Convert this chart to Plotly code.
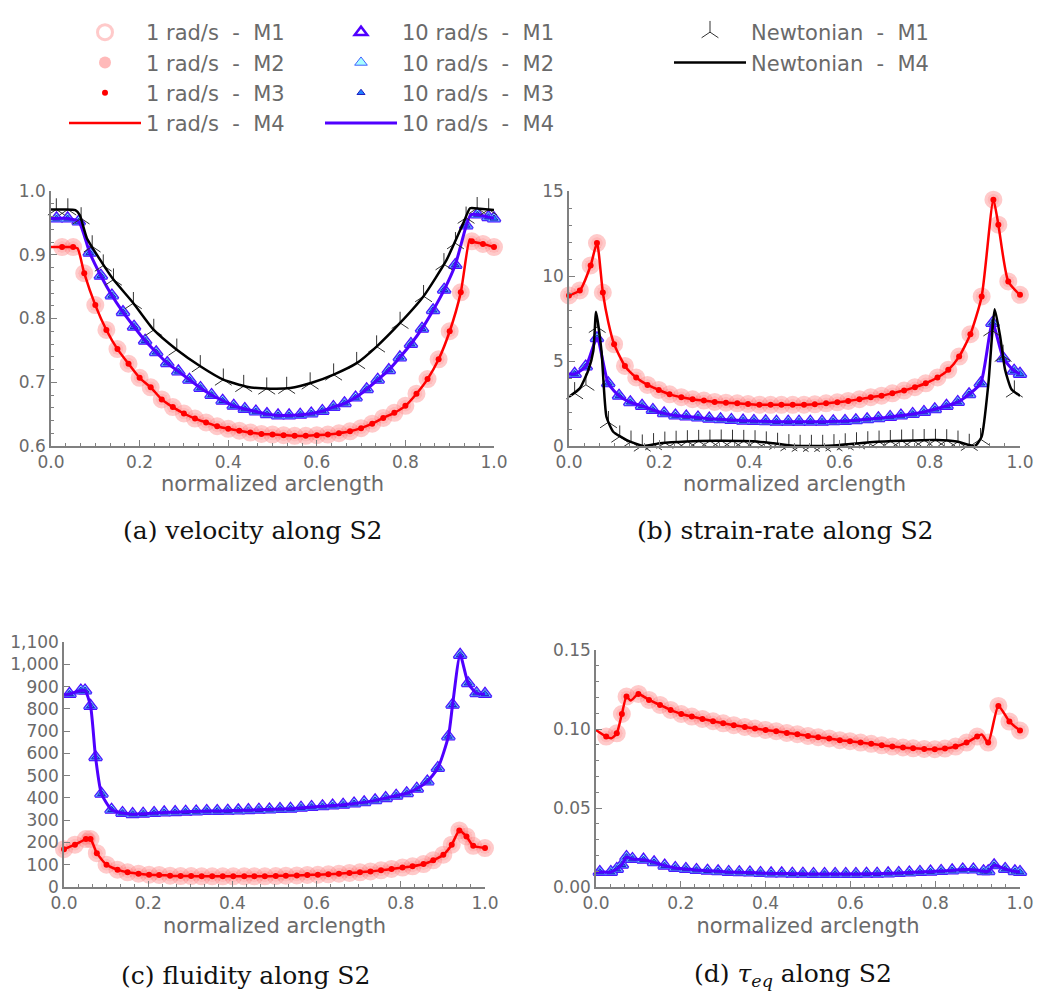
import plotly.graph_objects as go

# ---------------- data: normalized arclength (S) and field values along S2 ----------------
# (a) velocity
VEL_1_S = [0.025, 0.05, 0.075, 0.1, 0.125, 0.15, 0.175, 0.2, 0.225, 0.25, 0.275, 0.3, 0.325, 0.35,
           0.375, 0.4, 0.425, 0.45, 0.475, 0.5, 0.525, 0.55, 0.575, 0.6, 0.625, 0.65, 0.675, 0.7,
           0.725, 0.75, 0.775, 0.8, 0.825, 0.85, 0.875, 0.9, 0.925, 0.95, 0.975, 1.0]
VEL_1 = [0.912, 0.912, 0.871, 0.821, 0.782, 0.752, 0.729, 0.707, 0.692, 0.673, 0.661, 0.651, 0.643,
         0.637, 0.631, 0.627, 0.624, 0.621, 0.619, 0.618, 0.617, 0.616, 0.616, 0.617, 0.618, 0.620,
         0.623, 0.628, 0.635, 0.644, 0.652, 0.663, 0.682, 0.705, 0.736, 0.780, 0.841, 0.921, 0.917,
         0.912]
VEL_1_EXTRA_S = [0.0, 0.06, 0.945]
VEL_1_EXTRA = [0.912, 0.910, 0.924]

VEL_10_S = [0.0125, 0.0375, 0.0625, 0.0875, 0.1125, 0.1375, 0.1625, 0.1875, 0.2125, 0.2375, 0.2625,
            0.2875, 0.3125, 0.3375, 0.3625, 0.3875, 0.4125, 0.4375, 0.4625, 0.4875, 0.5125, 0.5375,
            0.5625, 0.5875, 0.6125, 0.6375, 0.6625, 0.6875, 0.7125, 0.7375, 0.7625, 0.7875, 0.8125,
            0.8375, 0.8625, 0.8875, 0.9125, 0.9375, 0.9625, 0.9875, 1.0]
VEL_10 = [0.957, 0.957, 0.952, 0.903, 0.867, 0.836, 0.810, 0.787, 0.765, 0.747, 0.730, 0.717, 0.704,
          0.691, 0.680, 0.671, 0.663, 0.658, 0.654, 0.650, 0.648, 0.648, 0.649, 0.651, 0.655, 0.661,
          0.667, 0.676, 0.689, 0.704, 0.719, 0.739, 0.760, 0.784, 0.813, 0.845, 0.884, 0.946, 0.963,
          0.959, 0.957]
VEL_10_EXTRA_S = [0.0, 0.948]
VEL_10_EXTRA = [0.957, 0.963]

VEL_N_S = [0.012, 0.038, 0.068, 0.093, 0.118, 0.141, 0.186, 0.232, 0.284, 0.337, 0.389, 0.435,
           0.487, 0.532, 0.585, 0.638, 0.69, 0.735, 0.788, 0.841, 0.887, 0.913, 0.937, 0.962, 0.988]
VEL_N = [0.971, 0.971, 0.957, 0.913, 0.883, 0.861, 0.824, 0.782, 0.751, 0.725, 0.704, 0.694, 0.690,
         0.691, 0.698, 0.712, 0.730, 0.756, 0.793, 0.835, 0.885, 0.918, 0.958, 0.973, 0.971]
VEL_N_LINE_S = [0.0, 0.03, 0.055, 0.065, 0.081, 0.111, 0.141, 0.186, 0.232, 0.284, 0.337, 0.389,
                0.442, 0.495, 0.54, 0.592, 0.638, 0.69, 0.735, 0.788, 0.841, 0.893, 0.931, 0.946,
                0.968, 1.0]
VEL_N_LINE = [0.971, 0.971, 0.970, 0.962, 0.926, 0.892, 0.861, 0.824, 0.782, 0.751, 0.725, 0.704,
              0.693, 0.690, 0.691, 0.700, 0.712, 0.730, 0.756, 0.793, 0.835, 0.892, 0.950, 0.973,
              0.972, 0.970]

# (b) strain-rate
SR_1_S = [0.0, 0.024, 0.048, 0.062, 0.075, 0.1, 0.124, 0.149, 0.174, 0.199, 0.223, 0.249, 0.274,
          0.299, 0.323, 0.348, 0.373, 0.397, 0.422, 0.447, 0.471, 0.496, 0.521, 0.545, 0.57, 0.595,
          0.619, 0.644, 0.669, 0.693, 0.717, 0.743, 0.767, 0.791, 0.817, 0.841, 0.865, 0.89, 0.915,
          0.941, 0.952, 0.974, 1.0]
SR_1 = [8.86, 9.15, 10.62, 11.94, 9.03, 5.99, 4.71, 4.03, 3.59, 3.30, 3.04, 2.87, 2.75, 2.67, 2.59,
        2.55, 2.51, 2.47, 2.43, 2.42, 2.42, 2.42, 2.43, 2.45, 2.51, 2.57, 2.65, 2.75, 2.87, 2.96,
        3.10, 3.26, 3.46, 3.69, 4.03, 4.48, 5.26, 6.58, 8.80, 14.49, 13.02, 9.68, 8.89]
SR_1_EXTRA_S = [0.087]
SR_1_EXTRA = [7.3]

SR_10_S = [0.0125, 0.037, 0.062, 0.087, 0.111, 0.136, 0.162, 0.186, 0.211, 0.236, 0.26, 0.286,
           0.311, 0.336, 0.36, 0.386, 0.41, 0.436, 0.46, 0.486, 0.51, 0.535, 0.561, 0.586, 0.612,
           0.636, 0.661, 0.686, 0.712, 0.736, 0.762, 0.787, 0.811, 0.837, 0.862, 0.887, 0.913,
           0.939, 0.963, 0.987, 1.0]
SR_10 = [4.24, 4.67, 6.34, 3.69, 2.95, 2.57, 2.36, 2.12, 1.92, 1.79, 1.73, 1.67, 1.61, 1.57, 1.53,
         1.49, 1.47, 1.45, 1.43, 1.43, 1.43, 1.43, 1.43, 1.45, 1.47, 1.51, 1.57, 1.63, 1.71, 1.79,
         1.88, 2.00, 2.16, 2.36, 2.59, 3.04, 3.69, 7.23, 5.16, 4.42, 4.24]
SR_10_EXTRA_S = [0.0]
SR_10_EXTRA = [4.24]

SR_N_S = [0.0125, 0.0375, 0.0625, 0.0875, 0.1125, 0.1375, 0.1625, 0.1875, 0.2125, 0.2375, 0.2625,
          0.2875, 0.3125, 0.3375, 0.3625, 0.3875, 0.4125, 0.4375, 0.4625, 0.4875, 0.5125, 0.5375,
          0.5625, 0.5875, 0.6125, 0.6375, 0.6625, 0.6875, 0.7125, 0.7375, 0.7625, 0.7875, 0.8125,
          0.8375, 0.8625, 0.8875, 0.9125, 0.9375, 0.9625, 0.9875]
SR_N = [3.1, 3.6, 7.0, 1.4, 0.55, 0.25, 0.02, 0.1, 0.19, 0.24, 0.27, 0.29, 0.3, 0.31, 0.3, 0.29,
        0.27, 0.2, 0.12, 0.04, 0.0, 0.0, 0.0, 0.04, 0.09, 0.15, 0.21, 0.25, 0.28, 0.31, 0.33, 0.34,
        0.35, 0.33, 0.25, 0.06, 0.4, 6.8, 5.3, 3.2]
SR_N_LINE_S = [0.0, 0.024, 0.043, 0.054, 0.06, 0.072, 0.083, 0.098, 0.128, 0.165, 0.202, 0.26,
               0.327, 0.408, 0.453, 0.497, 0.556, 0.6, 0.667, 0.741, 0.815, 0.86, 0.9, 0.915, 0.93,
               0.944, 0.956, 0.967, 0.981, 1.0]
SR_N_LINE = [2.9, 3.39, 4.47, 5.6, 7.9, 5.6, 1.72, 0.84, 0.35, 0.0, 0.16, 0.27, 0.31, 0.28, 0.16,
             0.02, 0.0, 0.06, 0.22, 0.31, 0.35, 0.26, 0.0, 0.55, 3.69, 8.05, 6.44, 4.48, 3.34, 2.95]

# (c) fluidity
FL_1_S = [0.0, 0.026, 0.052, 0.063, 0.078, 0.101, 0.127, 0.151, 0.177, 0.202, 0.226, 0.252, 0.277,
          0.302, 0.327, 0.352, 0.377, 0.402, 0.428, 0.452, 0.477, 0.503, 0.527, 0.553, 0.578, 0.603,
          0.628, 0.653, 0.678, 0.703, 0.728, 0.753, 0.778, 0.804, 0.828, 0.854, 0.877, 0.901, 0.921,
          0.939, 0.956, 0.972, 1.0]
FL_1 = [170, 190, 215, 215, 152, 100, 78, 66, 60, 55, 54, 51, 49, 49, 48, 48, 48, 48, 48, 48, 48,
        49, 51, 52, 54, 55, 57, 60, 63, 66, 70, 75, 81, 87, 93, 103, 120, 145, 190, 254, 227, 185,
        175]

FL_10_S = [0.013, 0.04, 0.05, 0.063, 0.075, 0.089, 0.113, 0.139, 0.163, 0.188, 0.214, 0.238, 0.264,
           0.289, 0.314, 0.339, 0.364, 0.389, 0.414, 0.438, 0.463, 0.488, 0.513, 0.538, 0.563,
           0.588, 0.614, 0.638, 0.663, 0.689, 0.713, 0.739, 0.764, 0.789, 0.814, 0.838, 0.863,
           0.888, 0.913, 0.923, 0.941, 0.96, 0.98, 1.0]
FL_10 = [867, 882, 882, 813, 583, 419, 347, 332, 327, 329, 332, 335, 336, 338, 339, 341, 341, 342,
         344, 345, 347, 348, 350, 351, 356, 359, 362, 366, 369, 375, 380, 389, 399, 410, 421, 441,
         474, 534, 676, 818, 1042, 915, 870, 867]
FL_10_EXTRA_S = [0.0]
FL_10_EXTRA = [862]

# (d) equivalent stress
TAU_1_S = [0.024, 0.049, 0.061, 0.072, 0.1, 0.125, 0.151, 0.176, 0.201, 0.226, 0.251, 0.276, 0.3,
           0.325, 0.351, 0.375, 0.4, 0.425, 0.45, 0.475, 0.5, 0.524, 0.55, 0.575, 0.599, 0.624,
           0.649, 0.674, 0.699, 0.724, 0.748, 0.774, 0.799, 0.823, 0.848, 0.874, 0.899, 0.925,
           0.949, 0.975, 1.0]
TAU_1 = [0.0952, 0.0973, 0.1095, 0.1205, 0.1222, 0.1184, 0.1152, 0.1121, 0.1095, 0.1079, 0.1064,
         0.1049, 0.1036, 0.1024, 0.1013, 0.1003, 0.0994, 0.0986, 0.0975, 0.0967, 0.0956, 0.0948,
         0.0940, 0.0929, 0.0923, 0.0914, 0.0906, 0.0897, 0.0889, 0.0883, 0.0878, 0.0874, 0.0872,
         0.0876, 0.0889, 0.0914, 0.0952, 0.0914, 0.1146, 0.1047, 0.0990]
TAU_1_EXTRA_S = [0.0, 0.037, 0.082, 0.91]
TAU_1_EXTRA = [0.0994, 0.0942, 0.1180, 0.0965]

TAU_10_S = [0.009, 0.035, 0.049, 0.061, 0.072, 0.086, 0.112, 0.137, 0.162, 0.187, 0.212, 0.237,
            0.263, 0.288, 0.313, 0.338, 0.363, 0.388, 0.413, 0.438, 0.463, 0.488, 0.513, 0.539,
            0.564, 0.589, 0.613, 0.638, 0.663, 0.689, 0.714, 0.739, 0.764, 0.789, 0.814, 0.84,
            0.865, 0.89, 0.914, 0.925, 0.939, 0.965, 0.988, 1.0]
TAU_10 = [0.0095, 0.0095, 0.0114, 0.0141, 0.0190, 0.0177, 0.0173, 0.0156, 0.0135, 0.0120, 0.0114,
          0.0107, 0.0103, 0.0099, 0.0095, 0.0093, 0.0091, 0.0088, 0.0086, 0.0086, 0.0084, 0.0084,
          0.0082, 0.0082, 0.0082, 0.0082, 0.0082, 0.0084, 0.0084, 0.0086, 0.0088, 0.0091, 0.0095,
          0.0097, 0.0101, 0.0105, 0.0110, 0.0110, 0.0099, 0.0099, 0.0137, 0.0114, 0.0099, 0.0095]
TAU_10_EXTRA_S = [0.0]
TAU_10_EXTRA = [0.0095]

LEGEND_1 = ["1 rad/s  -  M1", "1 rad/s  -  M2", "1 rad/s  -  M3", "1 rad/s  -  M4"]
LEGEND_10 = ["10 rad/s  -  M1", "10 rad/s  -  M2", "10 rad/s  -  M3", "10 rad/s  -  M4"]
LEGEND_N = ["Newtonian  -  M1", "Newtonian  -  M4"]
CAPTIONS = ["(a) velocity along S2", "(b) strain-rate along S2",
            "(c) fluidity along S2", "(d) <i>τ</i><sub><i>eq</i></sub> along S2"]


def with_extra(s, v, es=(), ev=()):
    pts = sorted(zip(list(s) + list(es), list(v) + list(ev)))
    return [p[0] for p in pts], [p[1] for p in pts]


def label(t):
    return t.replace("  ", "\u00a0\u00a0")


fig = go.Figure()

RED = "#ff0000"
PURPLE = "#5000ff"


def add_1rad(ax, s, v, es=(), ev=(), first=False):
    xa, ya = ("x" + ax, "y" + ax)
    kw = dict(xaxis=xa, yaxis=ya, cliponaxis=False, legend="legend", showlegend=first)
    fig.add_trace(go.Scatter(x=s, y=v, mode="markers", name=label(LEGEND_1[0]),
                             marker=dict(symbol="circle-open", size=15, color="rgba(255,150,150,0.5)",
                                         line=dict(width=3, color="rgba(255,150,150,0.5)")), **kw))
    fig.add_trace(go.Scatter(x=s, y=v, mode="markers", name=label(LEGEND_1[1]),
                             marker=dict(symbol="circle", size=12, color="rgba(255,80,80,0.4)",
                                         line=dict(width=0)), **kw))
    fig.add_trace(go.Scatter(x=s, y=v, mode="markers", name=label(LEGEND_1[2]),
                             marker=dict(symbol="circle", size=6, color=RED, line=dict(width=0)), **kw))
    ls, lv = with_extra(s, v, es, ev)
    fig.add_trace(go.Scatter(x=ls, y=lv, mode="lines", name=label(LEGEND_1[3]),
                             line=dict(color=RED, width=2.5, shape="spline", smoothing=0.6), **kw))


def add_10rad(ax, s, v, es=(), ev=(), first=False):
    xa, ya = ("x" + ax, "y" + ax)
    kw = dict(xaxis=xa, yaxis=ya, cliponaxis=False, legend="legend2", showlegend=first)
    fig.add_trace(go.Scatter(x=s, y=v, mode="markers", name=label(LEGEND_10[0]),
                             marker=dict(symbol="triangle-up-open", size=11, color=PURPLE,
                                         line=dict(width=2.5, color=PURPLE)), **kw))
    fig.add_trace(go.Scatter(x=s, y=v, mode="markers", name=label(LEGEND_10[1]),
                             marker=dict(symbol="triangle-up", size=11, color="#a8ffff",
                                         line=dict(width=1, color="#4060ff")), **kw))
    fig.add_trace(go.Scatter(x=s, y=v, mode="markers", name=label(LEGEND_10[2]),
                             marker=dict(symbol="triangle-up", size=7, color="#2080ff",
                                         line=dict(width=1, color="#2020c0")), **kw))
    ls, lv = with_extra(s, v, es, ev)
    fig.add_trace(go.Scatter(x=ls, y=lv, mode="lines", name=label(LEGEND_10[3]),
                             line=dict(color=PURPLE, width=3, shape="spline", smoothing=0.6), **kw))


def add_newton(ax, s, v, ls, lv, first=False):
    xa, ya = ("x" + ax, "y" + ax)
    kw = dict(xaxis=xa, yaxis=ya, cliponaxis=False, legend="legend3", showlegend=first)
    fig.add_trace(go.Scatter(x=s, y=v, mode="markers", name=label(LEGEND_N[0]),
                             marker=dict(symbol="y-up", size=14, color="#333333",
                                         line=dict(width=1, color="#333333")), **kw))
    fig.add_trace(go.Scatter(x=ls, y=lv, mode="lines", name=label(LEGEND_N[1]),
                             line=dict(color="#000000", width=2.5, shape="spline", smoothing=0.5), **kw))


# (a)
add_1rad("", VEL_1_S, VEL_1, VEL_1_EXTRA_S, VEL_1_EXTRA, first=True)
add_10rad("", VEL_10_S, VEL_10, VEL_10_EXTRA_S, VEL_10_EXTRA, first=True)
add_newton("", VEL_N_S, VEL_N, VEL_N_LINE_S, VEL_N_LINE, first=True)
# (b)
add_1rad("2", SR_1_S, SR_1, SR_1_EXTRA_S, SR_1_EXTRA)
add_10rad("2", SR_10_S, SR_10, SR_10_EXTRA_S, SR_10_EXTRA)
add_newton("2", SR_N_S, SR_N, SR_N_LINE_S, SR_N_LINE)
# (c)
add_1rad("3", FL_1_S, FL_1)
add_10rad("3", FL_10_S, FL_10, FL_10_EXTRA_S, FL_10_EXTRA)
# (d)
add_1rad("4", TAU_1_S, TAU_1, TAU_1_EXTRA_S, TAU_1_EXTRA)
add_10rad("4", TAU_10_S, TAU_10, TAU_10_EXTRA_S, TAU_10_EXTRA)

GRAY = "#6a6a6a"
AXC = "#808080"
tickfont = dict(family="DejaVu Sans", size=17, color=GRAY)


def xaxis_style(domain, anchor, standoff):
    return dict(domain=domain, anchor=anchor, range=[0, 1], tick0=0, dtick=0.2, tickformat=".1f",
                automargin=False,
                showline=True, linecolor=AXC, linewidth=1.5, ticks="inside", ticklen=6,
                tickcolor=AXC, tickwidth=1, showgrid=False, zeroline=False, tickfont=tickfont,
                minor=dict(ticks="inside", ticklen=3, tickcolor=AXC, dtick=1 / 30, tick0=0,
                           showgrid=False),
                title=dict(text="normalized arclength", standoff=standoff,
                           font=dict(family="DejaVu Sans", size=21, color=GRAY)))


def yaxis_style(domain, anchor, rng, dtick, fmt, minor):
    d = dict(domain=domain, anchor=anchor, range=rng, tick0=0, dtick=dtick, tickformat=fmt,
             automargin=False,
             showline=True, linecolor=AXC, linewidth=1.5, ticks="inside", ticklen=6,
             tickcolor=AXC, tickwidth=1, showgrid=False, zeroline=False, tickfont=tickfont)
    if minor:
        d["minor"] = dict(ticks="inside", ticklen=3, tickcolor=AXC, dtick=minor, showgrid=False)
    return d


W, H = 1045, 1004
TOP_Y = [1 - 446 / H, 1 - 191 / H]
BOT_C = [1 - 887 / H, 1 - 642 / H]
BOT_D = [1 - 887 / H, 1 - 650 / H]

legend_font = dict(family="DejaVu Sans", size=21, color=GRAY)
legend_common = dict(xanchor="left", yanchor="top", font=legend_font, itemwidth=72,
                     bgcolor="rgba(0,0,0,0)", borderwidth=0, tracegroupgap=0)
LEG_TOP = 1 - 12 / H

fig.update_layout(
    width=W, height=H, autosize=False,
    margin=dict(l=0, r=0, t=0, b=0),
    paper_bgcolor="white", plot_bgcolor="white",
    xaxis=xaxis_style([51 / W, 494 / W], "y", 2),
    yaxis=yaxis_style(TOP_Y, "x", [0.6, 1.0], 0.1, ".1f", 0.02),
    xaxis2=xaxis_style([569 / W, 1020 / W], "y2", 2),
    yaxis2=yaxis_style(TOP_Y, "x2", [0, 15], 5, "d", 1),
    xaxis3=xaxis_style([64 / W, 485 / W], "y3", 6),
    yaxis3=yaxis_style(BOT_C, "x3", [0, 1100], 100, ",d", None),
    xaxis4=xaxis_style([596 / W, 1020 / W], "y4", 6),
    yaxis4=yaxis_style(BOT_D, "x4", [0, 0.15], 0.05, ".2f", 0.01),
    legend=dict(x=64 / W, y=LEG_TOP, **legend_common),
    legend2=dict(x=320 / W, y=LEG_TOP, **legend_common),
    legend3=dict(x=669 / W, y=LEG_TOP, **legend_common),
)

cap_font = dict(family="DejaVu Serif", size=25, color="#111111")
for text, cx, cy in zip(CAPTIONS, [252, 785, 245, 793], [530, 530, 975, 975]):
    fig.add_annotation(text=text, x=cx / W, y=1 - cy / H, xref="paper", yref="paper",
                       showarrow=False, xanchor="center", yanchor="middle", font=cap_font)

fig.write_html("out.html")
